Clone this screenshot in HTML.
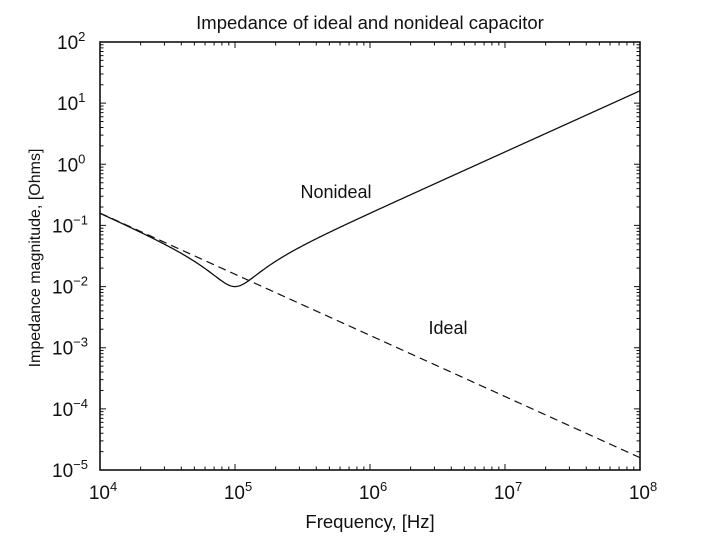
<!DOCTYPE html>
<html><head><meta charset="utf-8"><style>
html,body{margin:0;padding:0;background:#fff;}
svg text{font-family:"Liberation Sans",Arial,sans-serif;fill:#111;}
</style></head><body>
<svg id="s" width="708" height="539" xmlns="http://www.w3.org/2000/svg">
<text x="370" y="29" font-size="18.5" text-anchor="middle">Impedance of ideal and nonideal capacitor</text>
<text x="370" y="528" font-size="18.5" text-anchor="middle">Frequency, [Hz]</text>
<text transform="translate(40,258) rotate(-90)" font-size="16" text-anchor="middle">Impedance magnitude, [Ohms]</text>
<text x="336" y="198" font-size="18" text-anchor="middle">Nonideal</text>
<text x="448" y="334" font-size="18" text-anchor="middle">Ideal</text>
<g id="g"></g>
<rect x="100" y="42" width="540" height="428" fill="none" stroke="#111" stroke-width="1.6"/>
</svg>
<script>
const L=100,R=640,T=42,B=470,ns="http://www.w3.org/2000/svg";
const g=document.getElementById('g');
function X(f){return L+(Math.log10(f)-4)*(R-L)/4;}
function Y(z){return T+(2-Math.log10(z))*(B-T)/7;}
function el(t,a,txt){const e=document.createElementNS(ns,t);for(const k in a)e.setAttribute(k,a[k]);if(txt!==undefined)e.innerHTML=txt;g.appendChild(e);return e;}
let d='';
for(let dec=4;dec<8;dec++)for(let m=1;m<10;m++){const x=X(m*Math.pow(10,dec));const l=m==1?6:3.5;
d+=`M${x},${B}v${-l}M${x},${T}v${l}`;}
for(let dec=-5;dec<2;dec++)for(let m=1;m<10;m++){const y=Y(m*Math.pow(10,dec));const l=m==1?6:3.5;
d+=`M${L},${y}h${l}M${R},${y}h${-l}`;}
el('path',{d:d,stroke:'#111','stroke-width':1,fill:'none'});
for(let e=4;e<=8;e++){el('text',{x:X(Math.pow(10,e))+3,y:499,'font-size':19,'text-anchor':'middle'},`10<tspan dy="-8" font-size="13">${e}</tspan>`);}
for(let e=-5;e<=2;e++){const s=e<0?'\u2212'+(-e):''+e;el('text',{x:e<0?52:57,y:Y(Math.pow(10,e))+7,'font-size':19},`10<tspan dy="-8" font-size="13">${s}</tspan>`);}
const C=1e-4,Rs=0.01,Ls=1/Math.pow(2*Math.PI*1e5,2)/C;
let p1='',p2='';
for(let i=0;i<=800;i++){const f=Math.pow(10,4+4*i/800),w=2*Math.PI*f;
const zi=1/(w*C),zn=Math.sqrt(Rs*Rs+Math.pow(w*Ls-1/(w*C),2));
p1+=(i?'L':'M')+X(f).toFixed(2)+','+Y(zi).toFixed(2);
p2+=(i?'L':'M')+X(f).toFixed(2)+','+Y(zn).toFixed(2);}
el('path',{d:p1,stroke:'#111','stroke-width':1.2,fill:'none','stroke-dasharray':'8,5'});
el('path',{d:p2,stroke:'#111','stroke-width':1.3,fill:'none'});
</script>
</body></html>
